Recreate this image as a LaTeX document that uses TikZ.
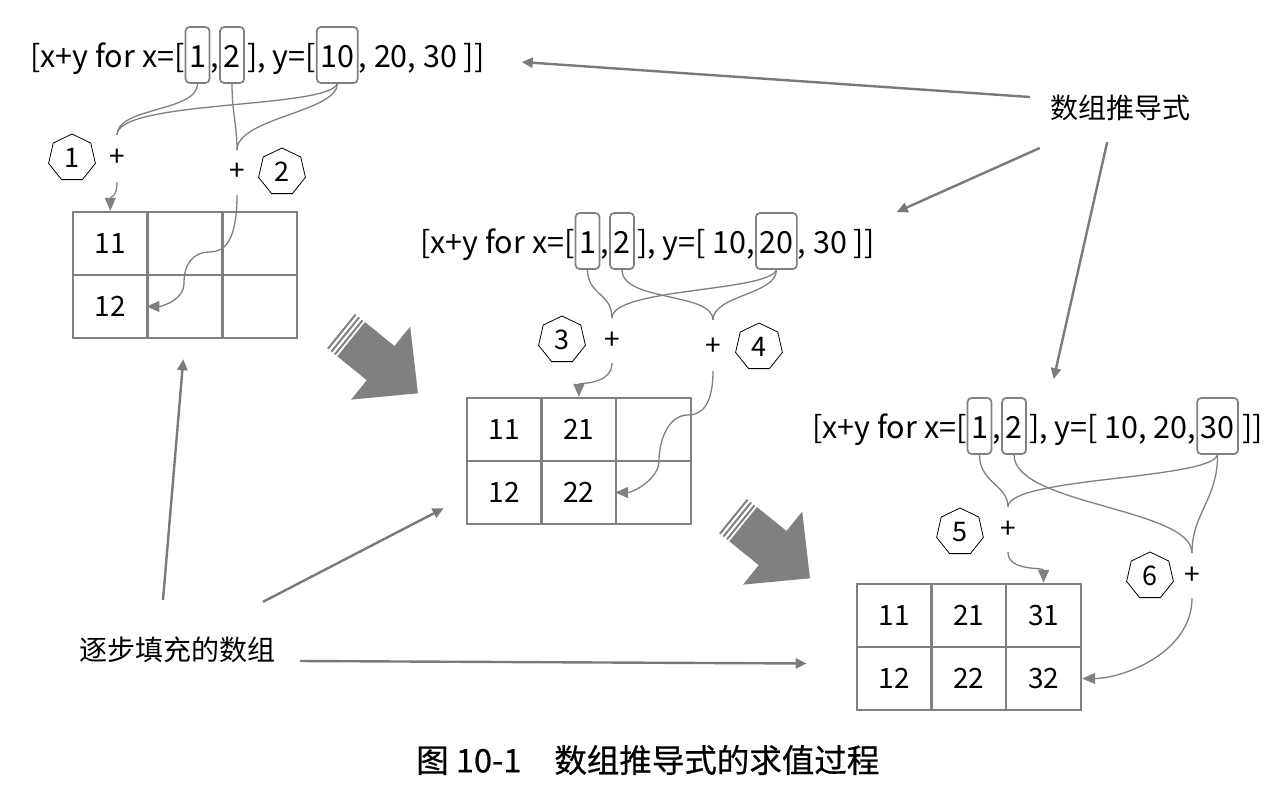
\documentclass[tikz,border=0pt]{standalone}
\usepackage{fontspec}
\setmainfont{Noto Sans CJK SC}
\newfontfamily\capfont[FakeBold=0.6]{Noto Sans CJK SC}
\usetikzlibrary{shapes.geometric,arrows.meta,calc}
\definecolor{gc}{HTML}{808080}
\definecolor{lc}{HTML}{7A7A7A}
\newcommand\fz{\fontsize{30.5}{34}\selectfont}
\newcommand\ft{\fontsize{28}{32}\selectfont}
\newcommand\fn{\fontsize{27}{30}\selectfont}
\begin{document}
\begin{tikzpicture}[x=1pt,y=-1pt,
  tx/.style={inner sep=0pt, anchor=base west, font=\fz},
  hl/.style={tx, draw=gc, line width=1.7pt, rounded corners=4pt, inner xsep=3.5pt, inner ysep=0pt, text height=40pt, text depth=16pt},
  hept/.style={regular polygon, regular polygon sides=7, draw=black, line width=0.8pt, minimum size=48pt, inner sep=0pt, font=\fn},
  plus/.style={inner sep=0pt, font=\ft},
  cell/.style={draw=gc, line width=2.4pt, minimum width=74.7pt, minimum height=63pt, inner sep=0pt, font=\ft},
  conn/.style={draw=gc, line width=1.3pt},
  carr/.style={conn, -{Triangle[length=13pt,width=11pt]}},
  larr/.style={draw=lc, line width=2.4pt, -{Triangle[length=11pt,width=10pt]}},
  lab/.style={inner sep=0pt, font=\ft},
  bigarrow/.style={fill=gc, draw=none}
]
\useasboundingbox (0,0) rectangle (1278,790);

% ---------- formula 1 ----------
\node[tx] (f1a) at (30,67) {[x+y for x=[\hspace{3pt}};
\node[hl] (f1b1) at (f1a.base east) {1};
\node[tx] (f1c) at (f1b1.base east) {,};
\node[hl] (f1b2) at (f1c.base east) {2};
\node[tx] (f1d) at (f1b2.base east) {\hspace{2pt}], y=[\hspace{3pt}};
\node[hl] (f1b10) at (f1d.base east) {10};
\node[tx] (f1e) at (f1b10.base east) {, 20, 30 ]]};

% ---------- formula 2 ----------
\node[tx] (f2a) at (420,253) {[x+y for x=[\hspace{3pt}};
\node[hl] (f2b1) at (f2a.base east) {1};
\node[tx] (f2c) at (f2b1.base east) {,};
\node[hl] (f2b2) at (f2c.base east) {2};
\node[tx] (f2d) at (f2b2.base east) {\hspace{2pt}], y=[ 10,\hspace{3pt}};
\node[hl] (f2b20) at (f2d.base east) {20};
\node[tx] (f2e) at (f2b20.base east) {, 30 ]]};

% ---------- formula 3 ----------
\node[tx] (f3a) at (812,438) {[x+y for x=[\hspace{3pt}};
\node[hl] (f3b1) at (f3a.base east) {1};
\node[tx] (f3c) at (f3b1.base east) {,};
\node[hl] (f3b2) at (f3c.base east) {2};
\node[tx] (f3d) at (f3b2.base east) {\hspace{2pt}], y=[ 10, 20,\hspace{3pt}};
\node[hl] (f3b30) at (f3d.base east) {30};
\node[tx] (f3e) at (f3b30.base east) {\hspace{3pt}]]};

% ---------- tables ----------
\foreach \t/\x/\y in {1/110.3/243.5, 2/504.2/429.5, 3/894.2/615.5} {
  \foreach \c in {1,2,3} {
    \foreach \r in {1,2} {
      \node[cell] (t\t-\r\c) at ({\x+(\c-1)*74.7},{\y+(\r-1)*63}) {};
    }
  }
}
\node[font=\ft] at (t1-11) {11};
\node[font=\ft] at (t1-21) {12};
\node[font=\ft] at (t2-11) {11};
\node[font=\ft] at (t2-21) {12};
\node[font=\ft] at (t2-12) {21};
\node[font=\ft] at (t2-22) {22};
\node[font=\ft] at (t3-11) {11};
\node[font=\ft] at (t3-21) {12};
\node[font=\ft] at (t3-12) {21};
\node[font=\ft] at (t3-22) {22};
\node[font=\ft] at (t3-13) {31};
\node[font=\ft] at (t3-23) {32};

% ---------- heptagons and plus signs ----------
\node[hept] (h1) at (72,158) {1};
\node[hept] (h2) at (282,172) {2};
\node[hept] (h3) at (562,340) {3};
\node[hept] (h4) at (759,347) {4};
\node[hept] (h5) at (960,532) {5};
\node[hept] (h6) at (1150,576) {6};
\node[plus] (p1) at (117,158) {+};
\node[plus] (p2) at (237,172) {+};
\node[plus] (p3) at (612,341) {+};
\node[plus] (p4) at (713,347) {+};
\node[plus] (p5) at (1008,530) {+};
\node[plus] (p6) at (1192,576) {+};

\coordinate (j1) at ($(p1)+(0,-23)$);
\coordinate (j2) at ($(p2)+(0,-22)$);
\coordinate (j3) at ($(p3)+(0,-23)$);
\coordinate (j4) at ($(p4)+(0,-27)$);
\coordinate (j5) at ($(p5)+(0,-23)$);
\coordinate (j6) at ($(p6)+(0,-23)$);
\coordinate (s1) at ($(p1)+(0,24)$);
\coordinate (s2) at ($(p2)+(0,23)$);
\coordinate (s3) at ($(p3)+(0,22)$);
\coordinate (s4) at ($(p4)+(0,24)$);
\coordinate (s5) at ($(p5)+(0,22)$);
\coordinate (s6) at ($(p6)+(0,22)$);

% ---------- connectors formula 1 ----------
\draw[conn] (f1b1.south) .. controls +(0,28) and +(0,-28) .. (j1);
\draw[conn] (f1b10.south) .. controls +(-10,25) and +(0,-35) .. (j1);
\draw[conn] (f1b10.south) .. controls +(0,28) and +(0,-32) .. (j2);
\draw[conn] (f1b2.south) .. controls +(0,30) and +(0,-25) .. (j2);
\draw[carr] (s1) .. controls +(0,16) and +(0,-14) .. (t1-11.north);
\draw[carr] (s2) .. controls +(0,45) and +(15,0) .. ($(s2)+(-27,57)$)
   .. controls +(-18,0) and +(0,-18) .. ($(s2)+(-53,88)$)
   .. controls +(0,18) and +(14,0) .. (t1-22.west);

% ---------- connectors formula 2 ----------
\draw[conn] (f2b1.south) .. controls +(0,25) and +(0,-25) .. (j3);
\draw[conn] (f2b20.south) .. controls +(-8,22) and +(0,-30) .. (j3);
\draw[conn] (f2b20.south) .. controls +(0,25) and +(0,-25) .. (j4);
\draw[conn] (f2b2.south) .. controls +(0,32) and +(0,-28) .. (j4);
\draw[carr] (s3) .. controls +(0,22) and +(0,-14) .. (t2-12.north);
\draw[carr] (s4) .. controls +(0,35) and +(13,0) .. ($(s4)+(-25,44)$)
   .. controls +(-20,0) and +(0,-20) .. ($(s4)+(-54,90)$)
   .. controls +(0,18) and +(18,0) .. (t2-23.west);

% ---------- connectors formula 3 ----------
\draw[conn] (f3b1.south) .. controls +(0,28) and +(0,-22) .. (j5);
\draw[conn] (f3b30.south) .. controls +(-8,25) and +(0,-30) .. (j5);
\draw[conn] (f3b30.south) .. controls +(0,45) and +(0,-40) .. (j6);
\draw[conn] (f3b2.south) .. controls +(0,50) and +(0,-45) .. (j6);
\draw[carr] (s5) .. controls +(0,20) and +(0,-16) .. (t3-13.north);
\draw[carr] (s6) .. controls +(0,55) and +(40,0) .. (t3-23.east);

% ---------- big block arrows ----------
\foreach \bx/\by in {341/331, 733/516} {
  \begin{scope}[shift={(\bx,\by)}, rotate=-39]
    \fill[gc] (0,-22) rectangle (2,22);
    \fill[gc] (4.5,-22) rectangle (6.5,22);
    \fill[gc] (9,-22) rectangle (11,22);
    \fill[gc] (13,-22) -- (51,-22) -- (51,-47) -- (99,0) -- (51,47) -- (51,22) -- (13,22) -- cycle;
  \end{scope}
}

% ---------- labels ----------
\node[lab] (L1) at (1120,108) {数组推导式};
\node[lab] (L2) at (177,650) {逐步填充的数组};
\draw[larr] ($(L1.west)+(-20,-11)$) -- ($(f1e.base east)+(37,-5)$);
\draw[larr] ($(L1.west)+(-10,40)$) -- ($(f2e.base east)+(22,-41)$);
\draw[larr] ($(L1.east)+(-83,34)$) -- ($(f3b30.north)+(-164,-18)$);
\draw[larr] ($(L2.north)+(-14,-37)$) -- ($(t1-21.south)+(73,20)$);
\draw[larr] ($(L2.north)+(86,-35)$) -- ($(t2-21.south west)+(-22,-17)$);
\draw[larr] ($(L2.east)+(25,11)$) -- ($(t3-21.west)+(-49,-15)$);

% ---------- caption ----------
\node[inner sep=0pt, anchor=west, font=\fontsize{32.5}{36}\capfont] (cap) at (416,760) {图 10-1\hspace{33pt}数组推导式的求值过程};
\end{tikzpicture}
\end{document}
